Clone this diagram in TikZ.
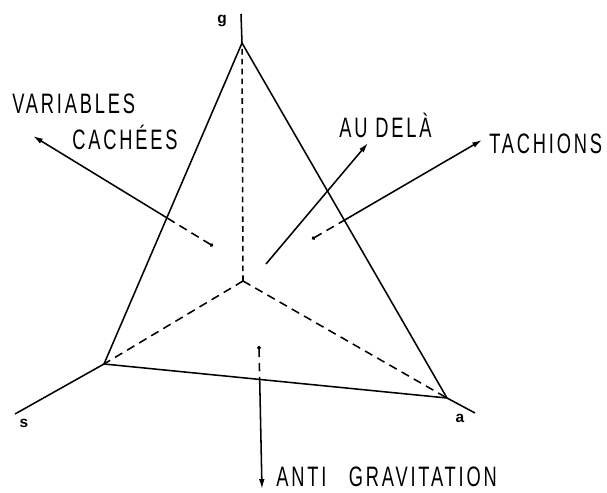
\documentclass[tikz,border=0pt]{standalone}
\usepackage{fontspec}
\setmainfont{Liberation Sans}[FakeStretch=0.65, LetterSpace=10]
\newfontfamily\axisfont{Liberation Sans}
\usetikzlibrary{arrows.meta, calc}

\tikzset{
  edge/.style={line width=1.1pt, black},
  hidden/.style={line width=1.1pt, black, dash pattern=on 6pt off 4pt},
  lbl/.style={font=\fontsize{20}{22}\selectfont, inner sep=0pt, anchor=west},
  axislbl/.style={font=\axisfont\fontsize{11}{12}\selectfont\bfseries, inner sep=0pt},
  tip/.style={-{Latex[length=7pt, width=4pt]}},
  dot/.style={{Circle[length=2.5pt]}-}
}

\begin{document}
\begin{tikzpicture}[x=0.025cm, y=-0.025cm]
  \useasboundingbox (0,0) rectangle (607,493);
  % Sommets du tetraedre
  \coordinate (O) at (243,281);
  \coordinate (G) at (242,43);
  \coordinate (S) at (104,364);
  \coordinate (A) at (447,398);
  % Prolongements des axes
  \coordinate (Gend) at (241,14);
  \coordinate (Send) at (15,414);
  \coordinate (Aend) at (475,413);
  \draw[edge] (G) -- (Gend);
  \draw[edge] (S) -- (Send);
  \draw[edge] (A) -- (Aend);
  \node[axislbl] (gl) at (222,21) {g};
  \node[axislbl] (sl) at (24,423) {s};
  \node[axislbl] (al) at (460,418) {a};
  % Faces
  \draw[edge] (G) -- (S) -- (A) -- cycle;
  \draw[hidden, dash pattern=on 4pt off 3pt] (O) -- (G);
  \draw[hidden] (O) -- (S);
  \draw[hidden] (O) -- (A);

  % Variables cachees
  \node[lbl] (vc1) at (12,104) {VARIABLES};
  \node[lbl] (vc2) at (72,137) {CACHÉES};
  \coordinate (vcStart) at (213,246);
  \coordinate (vcTip) at (33,136);
  \coordinate (vcCross) at (intersection of G--S and vcStart--vcTip);
  \draw[hidden, dot] (vcStart) -- (vcCross);
  \draw[edge, tip] (vcCross) -- (vcTip);

  % Au dela
  \node[lbl] (ad) at (339,125) {AU DELÀ};
  \coordinate (adStart) at (266,264);
  \coordinate (adTip) at (368,143);
  \draw[edge, dot, tip] (adStart) -- (adTip);

  % Tachions
  \node[lbl] (ta) at (489,144) {TACHIONS};
  \coordinate (taStart) at (312,239);
  \coordinate (taTip) at (482,140);
  \coordinate (taCross) at (intersection of G--A and taStart--taTip);
  \draw[hidden, dot] (taStart) -- (taCross);
  \draw[edge, tip] (taCross) -- (taTip);

  % Anti gravitation
  \node[lbl] (ag) at (276,477) {ANTI\hspace{0.8em}GRAVITATION};
  \coordinate (agStart) at (259,346);
  \coordinate (agTip) at (262,489);
  \coordinate (agCross) at (intersection of S--A and agStart--agTip);
  \draw[hidden, dot] (agStart) -- (agCross);
  \draw[edge, tip] (agCross) -- (agTip);
\end{tikzpicture}
\end{document}
